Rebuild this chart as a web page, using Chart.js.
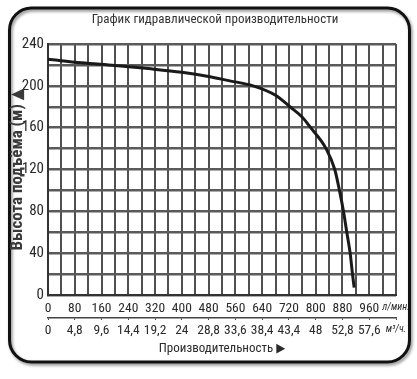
<!DOCTYPE html>
<html><head><meta charset="utf-8">
<script src="https://cdn.jsdelivr.net/npm/chart.js@4"></script>
<style>html,body{margin:0;padding:0;background:#fff}#wrap{width:417px;height:379px;position:relative}</style>
</head><body><div id="wrap"><canvas id="c" width="417" height="379"></canvas></div>
<script>
const chartTitle = 'График гидравлической производительности';
const yAxisTitle = 'Высота подъёма (м) ▲';
const xAxisTitle = 'Производительность ▶';
const flowLpm = [0, 100, 200, 300, 400, 480, 540, 613, 680, 723, 760, 785, 831, 857, 871, 883, 893, 903, 910, 915];
const headM   = [225.5, 222, 219.5, 216.5, 213, 209, 205, 200, 191, 180, 170, 160, 140, 120, 100, 80, 60, 40, 20, 7];
const lpmTicks = [0, 80, 160, 240, 320, 400, 480, 560, 640, 720, 800, 880, 960];
const m3hLabels = ['0', '4,8', '9,6', '14,4', '19,2', '24', '28,8', '33,6', '38,4', '43,4', '48', '52,8', '57,6'];
const lpmUnit = 'л/мин.';
const m3hUnit = 'м³/ч.';
const headTicks = [0, 40, 80, 120, 160, 200, 240];

const FAM = '"Liberation Sans Narrow", "Arial Narrow", "Roboto Condensed", "DejaVu Sans Condensed", "Liberation Sans", sans-serif';
const TXT = '#2a2a2a';
const X_MAX = 1040;

const framePlugin = {
  id: 'frame',
  beforeDraw(chart) {
    const c = chart.ctx;
    c.save();
    c.fillStyle = '#fff';
    c.fillRect(0, 0, chart.width, chart.height);
    c.shadowColor = 'rgba(0,0,0,0.45)';
    c.shadowBlur = 3;
    c.shadowOffsetX = 1.5;
    c.shadowOffsetY = 2;
    c.beginPath();
    c.roundRect(9.5, 8, 400, 354, 22);
    c.lineWidth = 3;
    c.strokeStyle = '#111';
    c.stroke();
    c.restore();
  },
  afterDraw(chart) {
    const c = chart.ctx;
    c.save();
    c.fillStyle = '#333';
    c.font = '13px ' + FAM;
    c.textAlign = 'center';
    c.textBaseline = 'middle';
    c.fillText(chartTitle, 215, 20);
    c.restore();
  }
};

const unitFont = {family: FAM, size: 10, style: 'italic'};
const xTickFont = {family: FAM, size: 13.5};

new Chart(document.getElementById('c'), {
  type: 'line',
  data: {
    datasets: [{
      data: flowLpm.map((x, i) => ({x: x, y: headM[i]})),
      borderColor: '#1a1a1a',
      borderWidth: 3,
      pointRadius: 0,
      fill: false,
      cubicInterpolationMode: 'monotone',
      xAxisID: 'x',
      yAxisID: 'y'
    }]
  },
  options: {
    responsive: false,
    animation: false,
    devicePixelRatio: 1,
    layout: {padding: {left: 0, right: 21, top: 44, bottom: 0}},
    plugins: {
      legend: {display: false},
      tooltip: {enabled: false},
      title: {display: false}
    },
    scales: {
      x: {
        type: 'linear',
        position: 'bottom',
        weight: 0,
        min: 0, max: X_MAX,
        afterBuildTicks(s) { const t = []; for (let v = 0; v <= X_MAX; v += 40) t.push({value: v}); s.ticks = t; },
        afterFit(s) { s.height = 23; },
        grid: {color: '#505050', lineWidth: 2, drawTicks: false},
        border: {display: true, color: '#333', width: 2},
        ticks: {
          autoSkip: false, maxRotation: 0, padding: 6, color: TXT,
          font: (ctx) => (ctx.tick && ctx.tick.value === X_MAX) ? unitFont : xTickFont,
          callback: (v) => lpmTicks.includes(v) ? String(v) : (v === X_MAX ? lpmUnit : '')
        }
      },
      x2: {
        type: 'linear',
        position: 'bottom',
        weight: 1,
        min: 0, max: X_MAX,
        afterBuildTicks(s) { const t = []; for (let v = 0; v <= X_MAX; v += 80) t.push({value: v}); s.ticks = t; },
        afterFit(s) { s.height = 61; },
        grid: {drawOnChartArea: false, drawTicks: true, tickLength: 2, color: '#444', lineWidth: 1},
        border: {display: true, color: '#444', width: 1.5},
        ticks: {
          autoSkip: false, maxRotation: 0, padding: 3, color: TXT,
          font: (ctx) => (ctx.tick && ctx.tick.value === X_MAX) ? unitFont : xTickFont,
          callback: (v) => v === X_MAX ? m3hUnit : m3hLabels[Math.round(v / 80)]
        },
        title: {
          display: true, text: xAxisTitle, color: TXT,
          font: {family: FAM, size: 13, lineHeight: 1.2},
          padding: {top: 0, bottom: 22}
        }
      },
      y: {
        type: 'linear',
        min: 0, max: 240,
        afterBuildTicks(s) { const t = []; for (let v = 0; v <= 240; v += 20) t.push({value: v}); s.ticks = t; },
        afterFit(s) { s.width = 48; },
        grid: {color: '#5a5a5a', lineWidth: 2.5, drawTicks: false},
        border: {display: true, color: '#333', width: 2},
        ticks: {
          autoSkip: false, padding: 4, color: TXT,
          font: {family: FAM, size: 15},
          callback: (v) => headTicks.includes(v) ? String(v) : ''
        },
        title: {
          display: true, text: yAxisTitle, color: '#3a3a3a',
          font: {family: FAM, size: 17, weight: 'bold', lineHeight: 1.2},
          padding: {top: 8, bottom: 0}
        }
      }
    }
  },
  plugins: [framePlugin]
});
</script></body></html>
